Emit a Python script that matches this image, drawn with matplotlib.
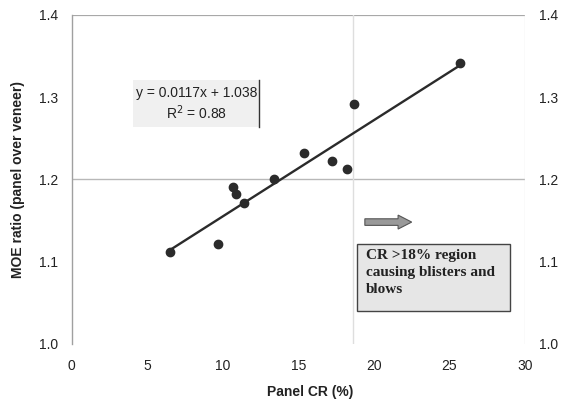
import matplotlib.pyplot as plt
from matplotlib.patches import Rectangle, FancyArrow

# data
panel_cr = [6.5, 9.7, 10.65, 10.9, 11.4, 13.4, 15.35, 17.2, 18.2, 18.65, 25.7]
moe_ratio = [1.112, 1.121, 1.191, 1.182, 1.171, 1.201, 1.232, 1.222, 1.212, 1.292, 1.341]
slope, intercept = 0.0117, 1.038
xticks = [0, 5, 10, 15, 20, 25, 30]
yticks = [1.0, 1.1, 1.2, 1.3, 1.4]

plt.rcParams['font.family'] = ['Liberation Sans', 'DejaVu Sans']

fig = plt.figure(figsize=(5.7, 4.03), dpi=100)
ax = fig.add_axes([0.126, 0.147, 0.795, 0.816])

# reference lines
ax.axhline(1.4, color='#a8a8a8', lw=1.6, zorder=1)
ax.axhline(1.2, color='#b8b8b8', lw=1.0, zorder=1)
ax.axvline(18.6, color='#dedede', lw=1.0, zorder=1)
ax.axvline(30, color='#e6e6e6', lw=1.0, zorder=1)

# trend line + points
xs = [min(panel_cr), max(panel_cr)]
ax.plot(xs, [slope * v + intercept for v in xs], color='#2b2b2b', lw=1.7, zorder=2)
ax.plot(panel_cr, moe_ratio, 'o', color='#2b2b2b', ms=6, zorder=3)

ax.set_xlim(0, 30)
ax.set_ylim(1.0, 1.4)
ax.set_xticks(xticks)
ax.set_yticks(yticks)
ax.set_yticklabels([f'{v:.1f}' for v in yticks])
ax.tick_params(axis='x', length=0, pad=11, labelsize=10, colors='#222222')
ax.tick_params(axis='y', length=0, pad=10, labelsize=10, colors='#222222',
               right=True, labelright=True)

for s in ['top', 'right', 'bottom']:
    ax.spines[s].set_visible(False)
ax.spines['left'].set_color('#a0a0a0')
ax.spines['left'].set_linewidth(1.0)

ax.set_xlabel('Panel CR (%)', fontsize=10, fontweight='bold', color='#222222')
ax.xaxis.set_label_coords(0.525, -0.125)
ax.set_ylabel('MOE ratio (panel over veneer)', fontsize=10, fontweight='bold', color='#222222')
ax.yaxis.set_label_coords(-0.104, 0.5)

# equation box
ax.add_patch(Rectangle((4.05, 1.264), 8.35, 0.057, facecolor='#f0f0f0',
                       edgecolor='none', zorder=2))
ax.plot([12.4, 12.4], [1.264, 1.321], color='#333333', lw=1.0, zorder=3)
ax.text(8.25, 1.305, 'y = 0.0117x + 1.038', ha='center', va='center',
        fontsize=10, color='#222222', zorder=4)
ax.text(8.25, 1.281, 'R$^2$ = 0.88', ha='center', va='center',
        fontsize=10, color='#222222', zorder=4)

# arrow
ax.add_patch(FancyArrow(19.4, 1.148, 2.2, 0, width=0.008, head_width=0.017,
                        head_length=0.9, facecolor='#999999', edgecolor='#555555',
                        lw=0.8, zorder=3))

# annotation box
ax.add_patch(Rectangle((18.9, 1.04), 10.1, 0.081, facecolor='#e6e6e6',
                       edgecolor='#444444', lw=1.0, zorder=3))
ax.text(19.45, 1.115, 'CR >18% region\ncausing blisters and\nblows', ha='left', va='top',
        fontsize=11, family='Liberation Serif', fontweight='bold', color='#222222',
        linespacing=1.4, zorder=4)

fig.savefig('out.png', dpi=100)
